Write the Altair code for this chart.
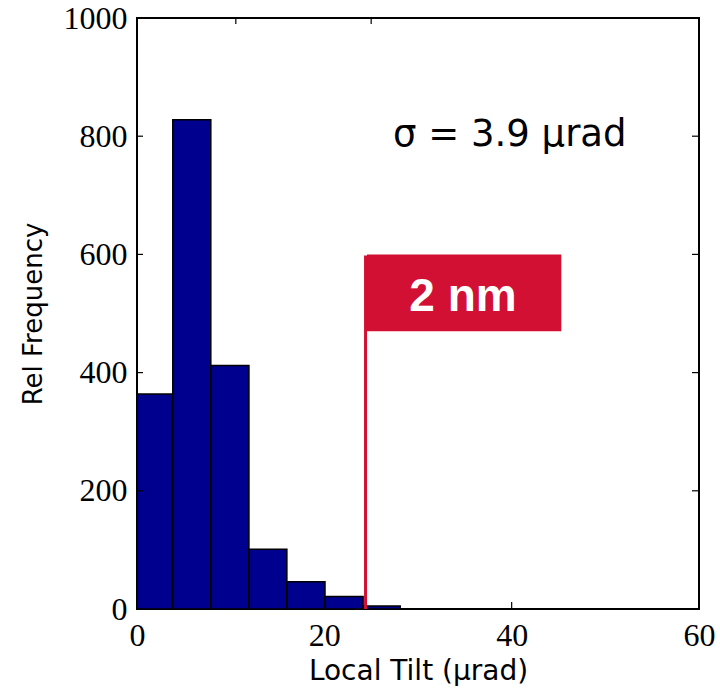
import altair as alt
import pandas as pd

# Histogram data
bin_start = [0.0, 3.82, 7.88, 11.95, 16.0, 20.07, 24.14]
bin_end = [3.82, 7.88, 11.95, 16.0, 20.07, 24.14, 28.1]
rel_freq = [364, 828, 412, 101, 46, 21, 5]

# Annotation values
flag_x = [24.4]
flag_bottom = [0]
flag_top = [598]
box_x0 = [24.55]
box_x1 = [45.3]
box_y0 = [470]
box_y1 = [600]
box_label = ["2 nm"]
box_label_x = [34.8]
box_label_y = [528]
sigma_label = ["σ = 3.9 μrad"]
sigma_x = [39.8]
sigma_y = [783]

# Tick values
x_tick_labels = [0, 20, 40, 60]
y_tick_labels = [0, 200, 400, 600, 800, 1000]
y_inner_ticks = [200, 400, 600, 800]
x_inner_ticks = [20, 40]
top_inner_ticks = [10.55, 25.0]

W, H = 562, 591
BLUE = "#00008E"
RED = "#D21033"

xs = alt.Scale(domain=[0, 60], nice=False, zero=False)
ys = alt.Scale(domain=[0, 1000], nice=False)

hist = pd.DataFrame({"x0": bin_start, "x1": bin_end, "f": rel_freq,
                     "base": [0] * len(rel_freq)})

x_axis = alt.Axis(
    values=x_tick_labels, ticks=False, domain=False, grid=False, format="d",
    labelFont="Liberation Serif", labelFontSize=32, labelColor="black",
    labelPadding=11, labelFlush=False, labelOverlap=False,
    title="Local Tilt (μrad)", titleFont="DejaVu Sans", titleFontSize=28,
    titleFontWeight="normal", titleColor="black", titleBaseline="alphabetic",
    titleY=70,
)
y_axis = alt.Axis(
    values=y_tick_labels, ticks=False, domain=False, grid=False, format="d",
    labelFont="Liberation Serif", labelFontSize=32, labelColor="black",
    labelPadding=10, labelFlush=False, labelOverlap=False,
    title="Rel Frequency", titleFont="DejaVu Sans", titleFontSize=26,
    titleFontWeight="normal", titleColor="black", titleBaseline="alphabetic",
    titleX=-96, titleY=H / 2, titleAngle=270,
)

bars = alt.Chart(hist).mark_rect(
    fill=BLUE, stroke="black", strokeWidth=1.5
).encode(
    x=alt.X("x0:Q", scale=xs, axis=x_axis),
    x2="x1:Q",
    y=alt.Y("f:Q", scale=ys, axis=y_axis),
    y2="base:Q",
)

flag_line = alt.Chart(pd.DataFrame({
    "x": flag_x, "b": flag_bottom, "top": flag_top
})).mark_rule(color=RED, strokeWidth=3).encode(
    x=alt.X("x:Q", scale=xs),
    y=alt.Y("b:Q", scale=ys),
    y2="top:Q",
)

flag_box = alt.Chart(pd.DataFrame({
    "x0": box_x0, "x1": box_x1, "y0": box_y0, "y1": box_y1
})).mark_rect(fill=RED).encode(
    x=alt.X("x0:Q", scale=xs), x2="x1:Q",
    y=alt.Y("y0:Q", scale=ys), y2="y1:Q",
)

flag_text = alt.Chart(pd.DataFrame({
    "t": box_label, "x": box_label_x, "y": box_label_y
})).mark_text(
    font="Liberation Sans", fontSize=46, fontWeight="bold", color="white",
    align="center", baseline="middle",
).encode(
    x=alt.X("x:Q", scale=xs), y=alt.Y("y:Q", scale=ys), text="t:N"
)

sigma_text = alt.Chart(pd.DataFrame({
    "t": sigma_label, "x": sigma_x, "y": sigma_y
})).mark_text(
    font="DejaVu Sans", fontSize=37, color="black",
    align="center", baseline="alphabetic",
).encode(
    x=alt.X("x:Q", scale=xs), y=alt.Y("y:Q", scale=ys), text="t:N"
)

yt = pd.DataFrame({"v": y_inner_ticks})
left_ticks = alt.Chart(yt).mark_rule(color="black", strokeWidth=1.2).encode(
    y=alt.Y("v:Q", scale=ys), x=alt.value(0), x2=alt.value(6)
)
right_ticks = alt.Chart(yt).mark_rule(color="black", strokeWidth=1.2).encode(
    y=alt.Y("v:Q", scale=ys), x=alt.value(W - 7), x2=alt.value(W)
)
bottom_ticks = alt.Chart(pd.DataFrame({"v": x_inner_ticks})).mark_rule(
    color="black", strokeWidth=1.2
).encode(
    x=alt.X("v:Q", scale=xs), y=alt.value(H - 7), y2=alt.value(H)
)
top_ticks = alt.Chart(pd.DataFrame({"v": top_inner_ticks})).mark_rule(
    color="black", strokeWidth=1.2
).encode(
    x=alt.X("v:Q", scale=xs), y=alt.value(0), y2=alt.value(6)
)

chart = alt.layer(
    bars, flag_line, flag_box, flag_text, sigma_text,
    left_ticks, right_ticks, bottom_ticks, top_ticks,
).properties(
    width=W, height=H,
    autosize=alt.AutoSizeParams(type="none"),
    padding={"left": 137, "top": 18, "right": 21, "bottom": 88},
    background="white",
).configure_view(
    stroke="black", strokeWidth=2
)

chart.save("out.html", embed_options={"renderer": "svg", "actions": False})
